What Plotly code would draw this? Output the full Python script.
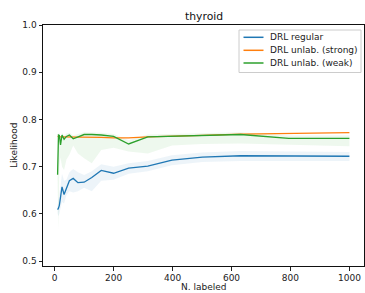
import plotly.graph_objects as go

# ---- data ----
n_labeled = [10, 13, 16, 20, 25, 32, 40, 50, 63, 79, 100, 126, 158, 200, 251, 316, 398, 501, 631, 794, 1000]

regular_mean = [0.609, 0.612, 0.618, 0.635, 0.657, 0.641, 0.656, 0.670, 0.675, 0.666, 0.667, 0.677, 0.692,
                0.686, 0.697, 0.701, 0.714, 0.720, 0.723, 0.722, 0.722]
regular_low = [0.600, 0.595, 0.600, 0.612, 0.625, 0.622, 0.640, 0.648, 0.645, 0.648, 0.655, 0.648, 0.670,
               0.672, 0.685, 0.690, 0.703, 0.710, 0.712, 0.712, 0.712]
regular_high = [0.618, 0.630, 0.638, 0.660, 0.685, 0.670, 0.672, 0.688, 0.695, 0.688, 0.682, 0.690, 0.705,
                0.700, 0.707, 0.712, 0.724, 0.730, 0.733, 0.732, 0.731]

strong_mean = [0.764, 0.763, 0.763, 0.763, 0.763, 0.763, 0.763, 0.763, 0.763, 0.763, 0.763, 0.763, 0.762,
               0.761, 0.761, 0.763, 0.764, 0.766, 0.769, 0.770, 0.772]

weak_mean = [0.683, 0.767, 0.766, 0.746, 0.767, 0.758, 0.764, 0.767, 0.759, 0.763, 0.768, 0.768, 0.767,
             0.764, 0.748, 0.763, 0.764, 0.766, 0.768, 0.760, 0.760]
weak_low = [0.670, 0.565, 0.700, 0.720, 0.700, 0.693, 0.715, 0.725, 0.745, 0.728, 0.718, 0.707, 0.735,
            0.740, 0.732, 0.728, 0.745, 0.748, 0.749, 0.746, 0.743]
weak_high = [0.690, 0.772, 0.772, 0.760, 0.772, 0.765, 0.770, 0.772, 0.766, 0.769, 0.773, 0.773, 0.772,
             0.769, 0.756, 0.768, 0.769, 0.771, 0.773, 0.766, 0.766]

series_names = ["DRL regular", "DRL unlab. (strong)", "DRL unlab. (weak)"]
colors = ["#1f77b4", "#ff7f0e", "#2ca02c"]
x_ticks = [0, 200, 400, 600, 800, 1000]
y_ticks = [0.5, 0.6, 0.7, 0.8, 0.9, 1.0]

FONT = "DejaVu Sans"
fig = go.Figure()


def band(low, high, rgba):
    fig.add_trace(go.Scatter(x=n_labeled + n_labeled[::-1], y=low + high[::-1], fill="toself",
                             fillcolor=rgba, line=dict(width=0), mode="lines",
                             hoverinfo="skip", showlegend=False))


def line(y, color, name):
    fig.add_trace(go.Scatter(x=n_labeled, y=y, mode="lines", name=name,
                             line=dict(color=color, width=1.3), showlegend=False))


band(regular_low, regular_high, "rgba(31,119,180,0.08)")
band(weak_low, weak_high, "rgba(44,160,44,0.08)")
line(regular_mean, colors[0], series_names[0])
line(strong_mean, colors[1], series_names[1])
line(weak_mean, colors[2], series_names[2])

L, R, T, B = 43, 1, 25, 27
W, H = 365, 293
pw, ph = W - L - R, H - T - B


def px(x):
    return (x - L) / pw


def py(y):
    return (H - B - y) / ph


shapes = [dict(type="rect", xref="paper", yref="paper", x0=px(239), x1=px(361), y0=py(72.5), y1=py(30),
               line=dict(color="#cccccc", width=1), fillcolor="rgba(255,255,255,0.8)", layer="above")]
annotations = []
rows = [37.3, 50.3, 63.0]
for name, c, ry in zip(series_names, colors, rows):
    shapes.append(dict(type="line", xref="paper", yref="paper", x0=px(243.5), x1=px(263.5),
                       y0=py(ry), y1=py(ry), line=dict(color=c, width=1.5), layer="above"))
    annotations.append(dict(text=name, xref="paper", yref="paper", x=px(268.3), y=py(ry),
                            xanchor="left", yanchor="middle", showarrow=False,
                            font=dict(family=FONT, size=9, color="#222")))

annotations += [
    dict(text="thyroid", xref="paper", yref="paper", x=0.5, y=py(16.7), xanchor="center", yanchor="middle",
         showarrow=False, font=dict(family=FONT, size=10.8, color="#111")),
    dict(text="N. labeled", xref="paper", yref="paper", x=0.5, y=py(286.5), xanchor="center", yanchor="middle",
         showarrow=False, font=dict(family=FONT, size=9, color="#222")),
    dict(text="Likelihood", xref="paper", yref="paper", x=px(13.5), y=0.5, xanchor="center", yanchor="middle",
         textangle=-90, showarrow=False, font=dict(family=FONT, size=9, color="#222")),
]

fig.update_layout(
    width=W, height=H, margin=dict(l=L, r=R, t=T, b=B, pad=0),
    paper_bgcolor="white", plot_bgcolor="white",
    font=dict(family=FONT, size=9, color="#222"),
    shapes=shapes, annotations=annotations, showlegend=False,
    xaxis=dict(range=[-39.5, 1049.5], tickvals=x_ticks, ticks="outside", ticklen=3.5, tickwidth=0.8,
               tickcolor="#222", showline=True, mirror=True, linecolor="#111", linewidth=1,
               showgrid=False, zeroline=False, tickfont=dict(family=FONT, size=9, color="#222")),
    yaxis=dict(range=[0.4895, 1.0], tickvals=y_ticks, tickformat=".1f", ticks="outside", ticklen=3.5,
               tickwidth=0.8, tickcolor="#222", showline=True, mirror=True, linecolor="#111", linewidth=1,
               showgrid=False, zeroline=False, tickfont=dict(family=FONT, size=9, color="#222")),
)

fig.write_html("out.html", config={"displayModeBar": False},
               post_script="document.body.style.margin='0';document.body.style.overflow='hidden';")
